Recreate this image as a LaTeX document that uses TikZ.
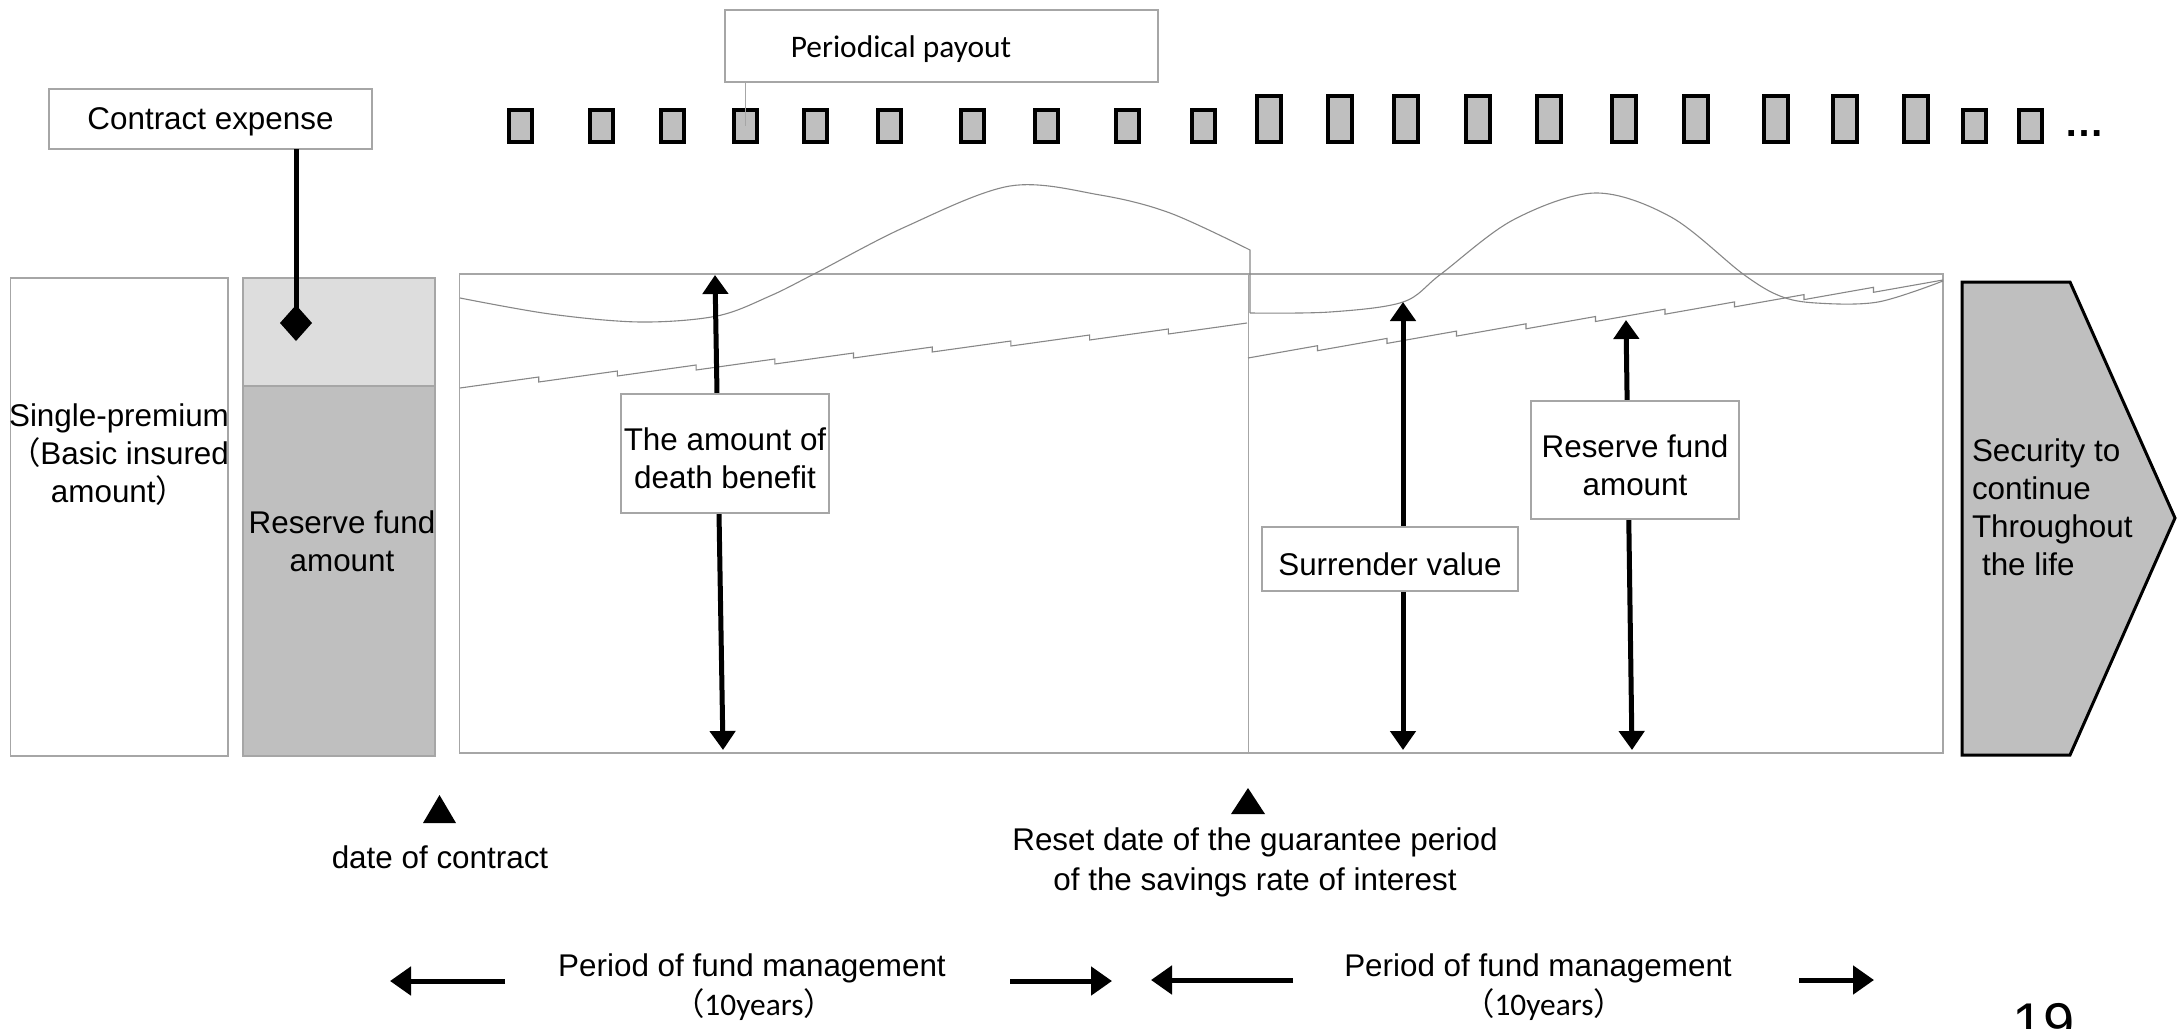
\documentclass[tikz,border=0pt]{standalone}
\usepackage{fontspec}
\setmainfont{Liberation Sans}
\newfontfamily\calib{Carlito}
\newfontfamily\cjk{Noto Sans CJK JP}
\usetikzlibrary{arrows.meta}
\newlength\pxu
\setlength\pxu{0.5pt}
\definecolor{edge}{RGB}{166,166,166}
\definecolor{fillmid}{RGB}{191,191,191}
\definecolor{filllight}{RGB}{221,221,221}
\definecolor{curvegray}{RGB}{135,135,135}

\begin{document}
\begin{tikzpicture}[x=0.5pt,y=-0.5pt,
  txt/.style={font=\fontsize{15.7}{19}\selectfont, align=center, inner sep=0pt, outer sep=0pt},
  lbl/.style={draw=edge, line width=0.75pt, fill=white, inner sep=0pt, outer sep=0pt},
  frame/.style={draw=edge, line width=0.75pt, inner sep=0pt, outer sep=0pt},
  paybar/.style={draw=black, line width=2pt, fill=fillmid, inner sep=0pt, outer sep=0pt},
  curve/.style={draw=curvegray, line width=0.55pt},
  saw/.style={draw=curvegray, line width=0.55pt, line join=miter},
  dbl/.style={line width=2.5pt, {Triangle[width=12.5pt,length=9.5pt]}-{Triangle[width=12.5pt,length=9.5pt]}},
  span/.style={line width=2.5pt, -{Triangle[width=14pt,length=10.5pt]}},
]
\useasboundingbox (0,0) rectangle (2179,1028);

% ---- left columns: premium and reserve fund ----
\node[frame, minimum width=217.5\pxu, minimum height=478\pxu] (prem) at (119.25,517) {};
\node[txt] (premtxt) at (119,455) {Single-premium\\{\cjk （}Basic insured\\amount{\cjk ）}};
\node[frame, fill=filllight, minimum width=192\pxu, minimum height=108\pxu] (exp) at (339,332) {};
\node[frame, fill=fillmid, minimum width=192\pxu, minimum height=370\pxu] (res) at (339,571) {};
\node[txt] (restxt) at (342,541) {Reserve fund\\amount};

% ---- contract expense ----
\node[lbl, minimum width=323\pxu, minimum height=60\pxu] (ce) at (210.5,119) {};
\node[txt, yshift=-1.5pt] (cetxt) at (ce.center) {Contract expense};
\coordinate (cetip) at (296,341);
\draw[line width=2.5pt, -{Diamond[width=16pt,length=18pt]}] (ce.south -| cetip) -- (cetip);

% ---- periodical payouts ----
\node[lbl, minimum width=433\pxu, minimum height=72\pxu] (pay) at (941.5,46) {};
\node[txt, font=\calib\fontsize{15.7}{19}\selectfont] (paytxt) at (901,49) {Periodical payout};
\foreach \x [count=\n] in {507,588,659,732,802,876,959,1033,1114,1190}
  \node[paybar, minimum width=23\pxu, minimum height=32\pxu] (p\n) at (\x+13.5,126) {};
\foreach \x [count=\n from 11] in {1255,1326,1392,1464,1535,1610,1682,1762,1831,1902}
  \node[paybar, minimum width=24\pxu, minimum height=46\pxu] (p\n) at (\x+14,119) {};
\foreach \x [count=\n from 21] in {1961,2017}
  \node[paybar, minimum width=23\pxu, minimum height=32\pxu] (p\n) at (\x+13.5,126) {};
\node[font=\bfseries\fontsize{20}{24}\selectfont, anchor=base, inner sep=0pt] (dots) at (2084,136) {…};
\draw[draw=edge, line width=0.6pt] (pay.south -| p4.center) -- (p4.center);

% ---- main chart frame ----
\node[frame, minimum width=1483.5\pxu, minimum height=479\pxu] (main) at (1201.25,513.5) {};
\coordinate (reset) at (1248,274);
\draw[draw=edge, line width=0.5pt] (reset) -- (reset |- main.south);

% death benefit curve
\draw[curve] plot[smooth, tension=0.55] coordinates {(460,298) (550,314) (640,322) (717,316) (770,296) (814,274) (905,227) (1010,186) (1100,195) (1170,213) (1250,250)} -- (1250,313);
\draw[curve] plot[smooth, tension=0.55] coordinates {(1250,313) (1330,312) (1403,302) (1441,274) (1513,220) (1595,193) (1671,217) (1743,274) (1780,296) (1816,303) (1878,302) (1943,281)};

% reserve fund growth (saw-tooth)
\draw[saw] (460,388) foreach \i in {1,...,9} { -- ++(78.7,-11) -- ++(0,5) } -- ++(78.7,-11);
\draw[saw] (1248,358) foreach \i in {1,...,9} { -- ++(69.5,-12.3) -- ++(0,5) } -- ++(69.5,-12.3);

% amounts
\coordinate (dbtop) at (715,275);
\coordinate (dbbot) at (723,750);
\coordinate (svtop) at (1403,302);
\coordinate (svbot) at (1403,750);
\coordinate (rftop) at (1626,320);
\coordinate (rfbot) at (1632,750);
\draw[dbl] (dbbot) -- (dbtop);
\draw[dbl] (svbot) -- (svtop);
\draw[dbl] (rfbot) -- (rftop);
\node[lbl, minimum width=208\pxu, minimum height=119\pxu] (db) at (725,453.5) {};
\node[txt, yshift=-2.5pt] (dbtxt) at (db.center) {The amount of\\death benefit};
\node[lbl, minimum width=256\pxu, minimum height=64\pxu] (sv) at (1390,559) {};
\node[txt, yshift=-2.5pt] (svtxt) at (sv.center) {Surrender value};
\node[lbl, minimum width=208\pxu, minimum height=118\pxu] (rf) at (1635,460) {};
\node[txt, yshift=-2.5pt] (rftxt) at (rf.center) {Reserve fund\\amount};

% ---- lifelong security ----
\draw[line width=1.5pt, fill=fillmid, line join=miter] (1962,282) -- (2070,282) -- (2175,518) -- (2070,755) -- (1962,755) -- cycle;
\node[txt, align=left, anchor=west] (sec) at (1972,507) {Security to\\continue\\Throughout\\\hspace{5pt}the life};

% ---- dates ----
\fill (423,823) -- (456,823) -- (439.5,795) -- cycle;
\fill (1231,814) -- (1265,814) -- (1248,788) -- cycle;
\node[txt] (doc) at (440,857) {date of contract};
\node[txt, font=\fontsize{15.7}{20}\selectfont] (resettxt) at (1255,862) {Reset date of the guarantee period\\of the savings rate of interest};

% ---- fund management periods ----
\node[txt] (pf1) at (752,968) {Period of fund management};
\node[txt] (yr1) at (754,1005) {{\cjk （}{\calib 10years}{\cjk ）}};
\node[txt] (pf2) at (1538,968) {Period of fund management};
\node[txt] (yr2) at (1544,1005) {{\cjk （}{\calib 10years}{\cjk ）}};
\coordinate (a1s) at (505,981);
\coordinate (a1e) at (390,981);
\coordinate (a2s) at (1010,981);
\coordinate (a2e) at (1112,981);
\coordinate (a3s) at (1293,980);
\coordinate (a3e) at (1151,980);
\coordinate (a4s) at (1799,980);
\coordinate (a4e) at (1874,980);
\draw[span] (a1s) -- (a1e);
\draw[span] (a2s) -- (a2e);
\draw[span] (a3s) -- (a3e);
\draw[span] (a4s) -- (a4e);

% ---- page number ----
\begin{scope}
\clip (0,0) rectangle (2179,1028);
\node[font=\fontsize{28}{32}\selectfont, anchor=base west, inner sep=0pt] (pg) at (2012,1042) {19};
\end{scope}
\end{tikzpicture}
\end{document}
